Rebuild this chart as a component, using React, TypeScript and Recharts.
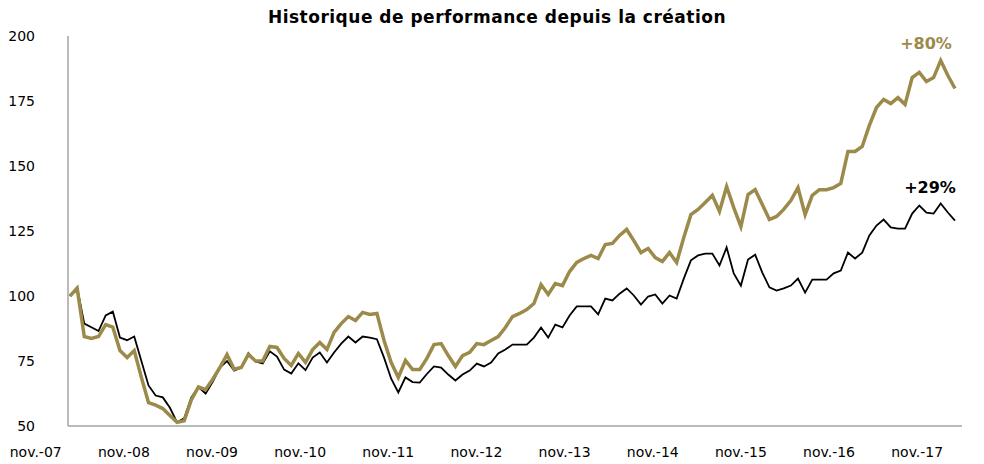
import { LineChart, Line, XAxis, YAxis } from "recharts";

// performance base 100, one point per month since creation
const fonds = [
  100, 103, 84.4, 83.7, 84.4, 89, 88, 79, 76.3, 79, 68.7, 59, 58, 56.7, 54, 51.4,
  52, 60, 65, 64, 68, 72.5, 77.5, 71.8, 72.5, 77.5, 75, 75, 80.6, 80.2, 76, 73.3,
  77.9, 74.5, 79.4, 82.1, 79.4, 86, 89.4, 92.1, 90.6, 93.7, 92.9, 93.3, 82.9, 74.4,
  68.7, 75.2, 71.7, 71.7, 76, 81.3, 81.7, 77.1, 72.9, 77.1, 78.3, 81.7, 81.3, 82.9,
  84.4, 87.9, 92.1, 93.3, 94.8, 97.1, 104.4, 100.6, 104.8, 104, 109.4, 112.9, 114.4,
  115.6, 114.4, 119.8, 120.2, 123.3, 125.6, 121.3, 116.7, 118.3, 114.8, 113.3, 116.7,
  112.9, 122.5, 131.3, 133.3, 136, 138.7, 132.5, 142.1, 134, 126.7, 139, 140.9, 135.2,
  129.4, 130.6, 133.3, 136.7, 141.7, 131.3, 138.7, 140.9, 140.9, 141.7, 143.3, 155.6,
  155.6, 157.5, 165.6, 172.5, 175.6, 174, 176.3, 173.7, 184, 186, 182.5, 184, 190.6,
  184.8, 179.8,
];

const indice = [
  100, 103.3, 89.4, 88, 86.5, 92.5, 94, 84, 83, 84.4, 75, 65.6, 61.7, 61, 57, 51.4,
  53, 61, 65, 62.5, 67, 72.5, 75, 71.3, 72.5, 78, 74.8, 74.1, 78.7, 76.7, 71.7, 70.2,
  74.1, 71.5, 76.3, 78.3, 74.4, 78.3, 81.7, 84.4, 82.1, 84.4, 84, 83.4, 76.3, 68.2,
  62.9, 68.7, 66.9, 66.7, 70, 72.9, 72.5, 69.8, 67.5, 69.8, 71.3, 74, 72.9, 74.4,
  77.9, 79.4, 81.3, 81.3, 81.3, 84, 87.9, 84, 89, 87.9, 92.5, 96, 96, 96, 92.9, 99,
  98.3, 100.9, 102.9, 100.2, 96.7, 99.8, 100.6, 97.1, 100.2, 99, 106.7, 113.7, 115.6,
  116.3, 116.3, 111.7, 118.7, 108.7, 104, 114, 115.9, 109, 103.3, 102.1, 102.9, 104,
  106.7, 101.3, 106.3, 106.3, 106.3, 108.7, 109.8, 116.7, 114.4, 116.7, 123.3, 127.1,
  129.4, 126.4, 125.9, 125.9, 131.7, 134.8, 132.1, 131.7, 135.6, 132.1, 129,
];

const tickLabels = [
  "nov.-07", "nov.-08", "nov.-09", "nov.-10", "nov.-11", "nov.-12",
  "nov.-13", "nov.-14", "nov.-15", "nov.-16", "nov.-17",
];

const yTicks = [50, 75, 100, 125, 150, 175, 200];

const GOLD = "#9c8a4b";
const AXIS = "#a3a3a3";
const FONT = "DejaVu Sans";

const data = fonds.map((v, i) => ({ i, fonds: v, indice: indice[i] }));
const LAST = data.length - 1;
// Excel puts the yearly labels slightly left of the monthly points
const xTicks = tickLabels.map((_, k) => -4.8 + 12.35 * k);

function perf(series: number[]) {
  const r = Math.round((series[series.length - 1] / series[0] - 1) * 100);
  return `${r >= 0 ? "+" : ""}${r}%`;
}

const endLabel =
  (text: string, color: string, dx: number, dy: number) => (props: any) =>
    props.index === LAST ? (
      <text
        x={props.x + dx}
        y={props.y + dy}
        textAnchor="middle"
        fill={color}
        fontWeight="bold"
        fontSize={16}
        fontFamily={FONT}
      >
        {text}
      </text>
    ) : null;

export default function App() {
  return (
    <div
      style={{
        position: "absolute",
        left: 0,
        top: 0,
        width: 984,
        height: 464,
        background: "#fff",
        fontFamily: FONT,
      }}
    >
      <div
        style={{
          position: "absolute",
          top: 7,
          left: 0,
          width: 994,
          textAlign: "center",
          fontWeight: "bold",
          fontSize: 17,
          letterSpacing: 0.5,
          color: "#000",
        }}
      >
        Historique de performance depuis la création
      </div>
      <LineChart
        width={984}
        height={464}
        data={data}
        margin={{ top: 36, right: 22, left: 0, bottom: 0 }}
      >
        <XAxis
          dataKey="i"
          type="number"
          domain={[0, LAST]}
          padding={{ left: 2, right: 7 }}
          ticks={xTicks}
          interval={0}
          tickFormatter={(_v: number, k: number) => tickLabels[k]}
          tickLine={false}
          tickSize={0}
          tickMargin={21}
          height={38}
          axisLine={{ stroke: AXIS, strokeWidth: 1.5 }}
          tick={{ fill: "#000", fontSize: 14, fontFamily: FONT }}
        />
        <YAxis
          domain={[50, 200]}
          ticks={yTicks}
          interval={0}
          width={68}
          tickLine={false}
          tickSize={0}
          tickMargin={33}
          axisLine={{ stroke: AXIS, strokeWidth: 1.5 }}
          tick={{ fill: "#000", fontSize: 14, fontFamily: FONT }}
        />
        <Line
          dataKey="indice"
          stroke="#000"
          strokeWidth={1.8}
          dot={false}
          isAnimationActive={false}
          label={endLabel(perf(indice), "#000", -25, -28)}
        />
        <Line
          dataKey="fonds"
          stroke={GOLD}
          strokeWidth={3.5}
          dot={false}
          isAnimationActive={false}
          label={endLabel(perf(fonds), GOLD, -29, -40)}
        />
      </LineChart>
    </div>
  );
}
